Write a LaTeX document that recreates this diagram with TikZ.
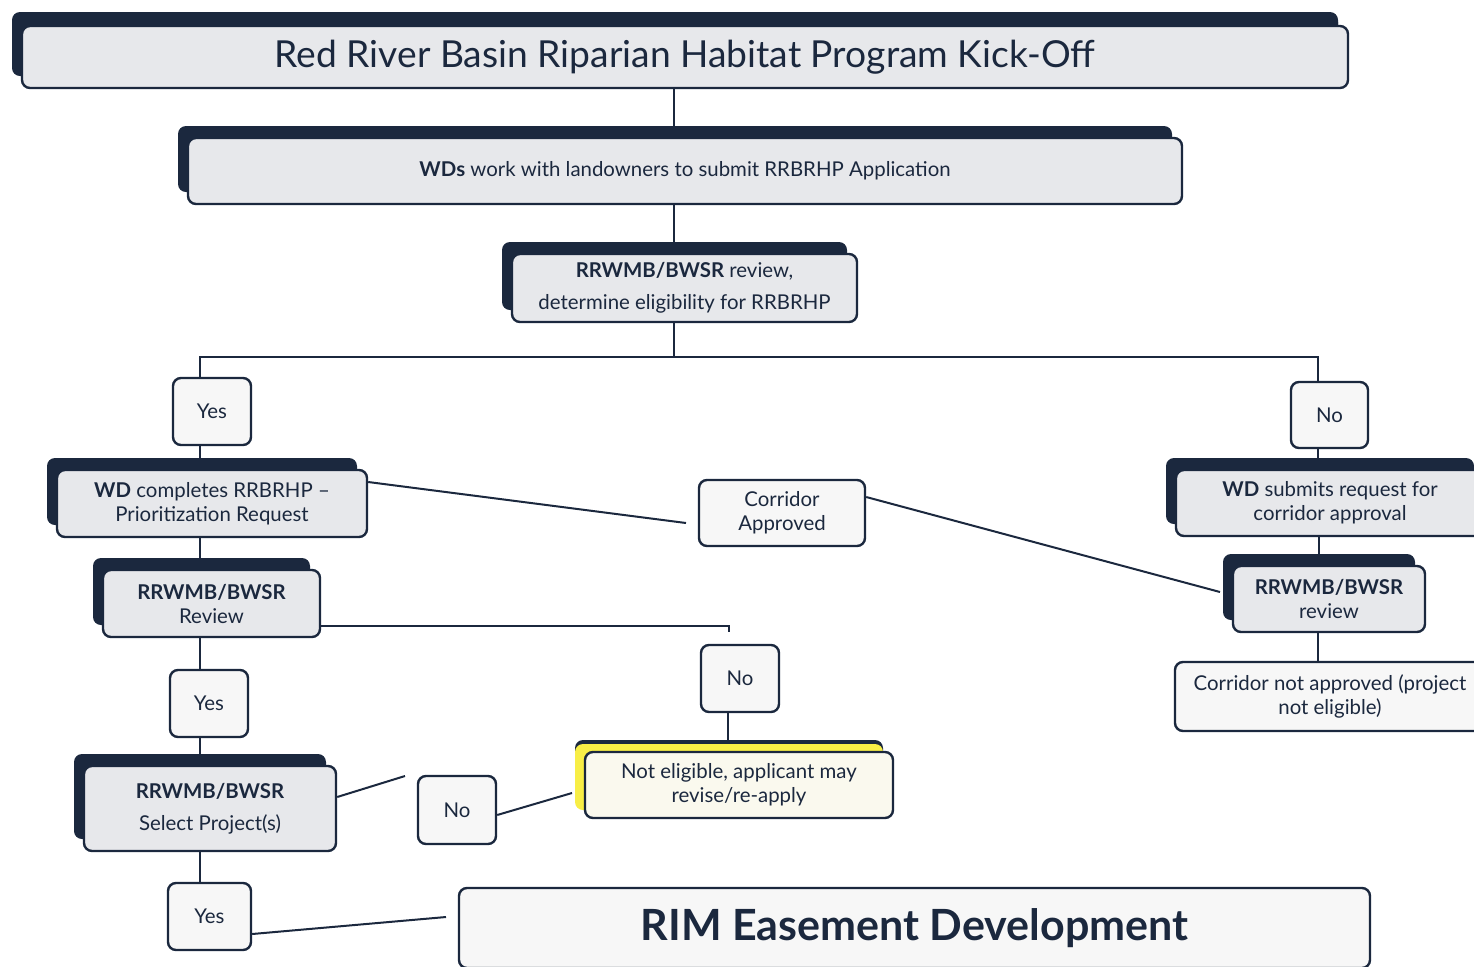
\documentclass[tikz,border=0pt]{standalone}
\usepackage{fontspec}
\setmainfont{Lato}
\usetikzlibrary{shadows,backgrounds}
\definecolor{navy}{RGB}{27,40,62}
\definecolor{boxgray}{RGB}{231,232,235}
\definecolor{paleyel}{RGB}{250,249,238}
\definecolor{hilite}{RGB}{248,238,70}
\tikzset{
	stepbox/.style={draw=navy, line width=1.2pt, rounded corners=4pt, text=navy, align=center, inner sep=2pt,
		fill=boxgray, general shadow={fill=navy, shadow xshift=-5pt, shadow yshift=6pt}},
	answer/.style={draw=navy, line width=1.2pt, rounded corners=4pt, text=navy, align=center, inner sep=2pt,
		fill=white!97!black, minimum width=39pt, minimum height=33.5pt},
	link/.style={draw=navy, line width=1pt}
}

\begin{document}
\begin{tikzpicture}[x=0.5pt, y=-0.5pt, font=\fontsize{10.2}{12}\selectfont]
		%%%%% START %%%%%
		\useasboundingbox (0,0) rectangle (1474,966);
		\clip (0,0) rectangle (1474,966);
		
		% top of the chart
		\node[stepbox, minimum width=663pt, minimum height=31pt,
			general shadow={fill=navy, shadow xshift=-5pt, shadow yshift=7pt}] (kickoff) at (685,57)
			{\fontsize{18.6}{22}\selectfont Red River Basin Riparian Habitat Program Kick-Off};
		\node[stepbox, minimum width=497pt, minimum height=33pt] (apply) at (685,171)
			{\textbf{WDs} work with landowners to submit RRBRHP Application};
		\node[stepbox, minimum width=172.5pt, minimum height=34pt] (eligible) at (684.5,288)
			{\textbf{RRWMB/BWSR} review,\\[4pt] determine eligibility for RRBRHP};
		
		% left branch
		\node[answer] (yesA) at (212,411.5) {Yes};
		\node[stepbox, minimum width=155pt, minimum height=33.5pt] (prioreq) at (212,503.5)
			{\textbf{WD} completes RRBRHP --\\Prioritization Request};
		\node[stepbox, minimum width=108.5pt, minimum height=33.5pt] (revA) at (211.5,603.5)
			{\textbf{RRWMB/BWSR}\\Review};
		\node[answer] (yesB) at (209,703.5) {Yes};
		\node[stepbox, minimum width=126pt, minimum height=42.5pt] (select) at (210,808.5)
			{\textbf{RRWMB/BWSR}\\[4pt] Select Project(s)};
		\node[answer, minimum width=41.5pt] (yesC) at (209.5,916.5) {Yes};
		
		% middle
		\node[answer, minimum width=83pt, minimum height=33pt] (corridor) at (782,513) {Corridor\\Approved};
		\node[answer] (noB) at (740,678.5) {No};
		\node[stepbox, fill=paleyel, minimum width=154pt, minimum height=33pt,
			general shadow={fill=hilite, shadow xshift=-5pt, shadow yshift=4pt}] (noteligible) at (739,785)
			{Not eligible, applicant may\\revise/re-apply};
		\node[answer, minimum height=34pt] (noC) at (457,810) {No};
		\node[answer, minimum width=455.5pt, minimum height=40pt] (rim) at (914.5,928)
			{\fontsize{21.5}{25}\selectfont\bfseries RIM Easement Development};
		
		% right branch
		\node[answer, minimum width=38.5pt, minimum height=33pt] (noA) at (1329.5,415) {No};
		\node[stepbox, minimum width=154pt, minimum height=33pt] (correq) at (1330,503)
			{\textbf{WD} submits request for\\corridor approval};
		\node[stepbox, minimum width=96pt, minimum height=33pt] (revB) at (1329,599)
			{\textbf{RRWMB/BWSR}\\review};
		\node[answer, minimum width=155pt, minimum height=34.5pt] (notappr) at (1330,696.5)
			{Corridor not approved (project\\not eligible)};
		
		% connectors, kept under the boxes
		\begin{pgfonlayer}{background}
		\draw[link] ([xshift=-5.5pt]kickoff.south) coordinate (t1) -- (t1 |- apply.north);
		\draw[link] ([xshift=-5.5pt]apply.south) coordinate (t2) -- (t2 |- eligible.north);
		\coordinate (split) at (674,357);
		\draw[link] ([xshift=-5.25pt]eligible.south) -- (split);
		\draw[link] ([xshift=-6pt]yesA.north) |- (split) -| ([xshift=-5.75pt]noA.north);
		
		\draw[link] ([xshift=-6pt]yesA.south) coordinate (t3) -- (t3 |- prioreq.north);
		\draw[link] ([xshift=-6pt]prioreq.south) coordinate (t4) -- (t4 |- revA.north);
		\draw[link] ([xshift=-5.75pt]revA.south) coordinate (t5) -- (t5 |- yesB.north);
		\draw[link] ([xshift=-4.5pt]yesB.south) coordinate (t6) -- (t6 |- select.north);
		\draw[link] ([xshift=-5pt]select.south) coordinate (t7) -- (t7 |- yesC.north);
		
		\coordinate (endA) at (686,523);
		\draw[link] (prioreq.east |- 0,482) -- (endA);
		\coordinate (endB) at (1220,592);
		\draw[link] (corridor.east |- 0,497) -- (endB);
		\coordinate (endC) at (729,632);
		\draw[link] (revA.east |- 0,626) -| (endC);
		\draw[link] ([xshift=-6pt]noB.south) coordinate (t8) -- (t8 |- noteligible.north);
		\coordinate (endD) at (405,776);
		\draw[link] (select.east |- 0,797) -- (endD);
		\coordinate (endE) at (572,793);
		\draw[link] (noC.east |- 0,815) -- (endE);
		\coordinate (endF) at (446,917);
		\draw[link] (yesC.east |- 0,934) -- (endF);
		
		\draw[link] ([xshift=-5.75pt]noA.south) coordinate (t9) -- (t9 |- correq.north);
		\draw[link] ([xshift=-5.5pt]correq.south) coordinate (t10) -- (t10 |- revB.north);
		\draw[link] ([xshift=-5.5pt]revB.south) coordinate (t11) -- (t11 |- notappr.north);
		\end{pgfonlayer}
		%%%%% END %%%%%
\end{tikzpicture}
\end{document}
